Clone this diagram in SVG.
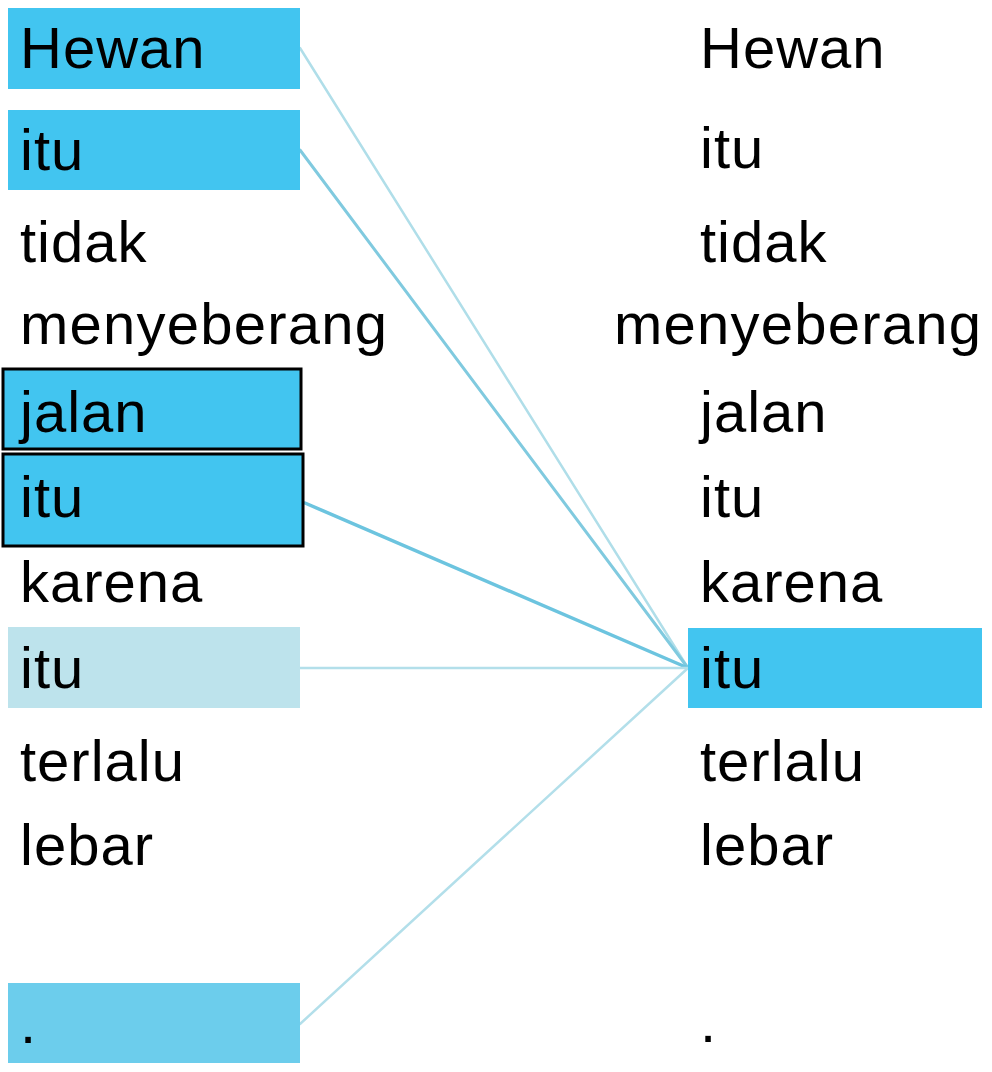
<svg xmlns="http://www.w3.org/2000/svg" width="992" height="1072" viewBox="0 0 992 1072">
<style>
  text { font-family: "Liberation Sans", Arial, sans-serif; font-size: 58px; fill: #000; letter-spacing: 1px; }
  .hi { fill: #42c5f0; }
  .pale { fill: #bde3ec; }
  .mid { fill: #6ccdec; }
  .edge { fill: none; stroke-linecap: round; }
</style>
<rect width="992" height="1072" fill="#ffffff"/>
<g id="connectors">
  <line class="edge" x1="300" y1="48" x2="688" y2="668" stroke="#b0dee9" stroke-width="2.5"/>
  <line class="edge" x1="300" y1="150" x2="688" y2="668" stroke="#80cadf" stroke-width="3"/>
  <line class="edge" x1="305" y1="503" x2="688" y2="668" stroke="#6cc4df" stroke-width="3.5"/>
  <line class="edge" x1="300" y1="668" x2="688" y2="668" stroke="#b3dfea" stroke-width="2.5"/>
  <line class="edge" x1="300" y1="1024" x2="688" y2="668" stroke="#b3dfea" stroke-width="2.5"/>
</g>
<g id="src-hewan"><rect class="hi" x="8" y="8" width="292" height="81"/><text x="20" y="68">Hewan</text></g>
<g id="src-itu1"><rect class="hi" x="8" y="110" width="292" height="80"/><text x="20" y="170">itu</text></g>
<g id="src-tidak"><text x="20" y="262">tidak</text></g>
<g id="src-menyeberang"><text x="20" y="344" textLength="368" lengthAdjust="spacing">menyeberang</text></g>
<g id="src-jalan"><rect class="hi" x="3" y="369" width="298" height="80" stroke="#000" stroke-width="3"/><text x="20" y="432">jalan</text></g>
<g id="src-itu2"><rect class="hi" x="3" y="454" width="300" height="92" stroke="#000" stroke-width="3"/><text x="20" y="517">itu</text></g>
<g id="src-karena"><text x="20" y="602">karena</text></g>
<g id="src-itu3"><rect class="pale" x="8" y="627" width="292" height="81"/><text x="20" y="688">itu</text></g>
<g id="src-terlalu"><text x="20" y="781">terlalu</text></g>
<g id="src-lebar"><text x="20" y="865">lebar</text></g>
<g id="src-dot"><rect class="mid" x="8" y="983" width="292" height="80"/><text x="20" y="1043">.</text></g>

<g id="tgt-hewan"><text x="700" y="68">Hewan</text></g>
<g id="tgt-itu1"><text x="700" y="168">itu</text></g>
<g id="tgt-tidak"><text x="700" y="262">tidak</text></g>
<g id="tgt-menyeberang"><text x="614" y="344" textLength="368" lengthAdjust="spacing">menyeberang</text></g>
<g id="tgt-jalan"><text x="700" y="432">jalan</text></g>
<g id="tgt-itu2"><text x="700" y="517">itu</text></g>
<g id="tgt-karena"><text x="700" y="602">karena</text></g>
<g id="tgt-itu3"><rect class="hi" x="688" y="628" width="294" height="80"/><text x="700" y="688">itu</text></g>
<g id="tgt-terlalu"><text x="700" y="781">terlalu</text></g>
<g id="tgt-lebar"><text x="700" y="865">lebar</text></g>
<g id="tgt-dot"><text x="700" y="1042">.</text></g>
</svg>
